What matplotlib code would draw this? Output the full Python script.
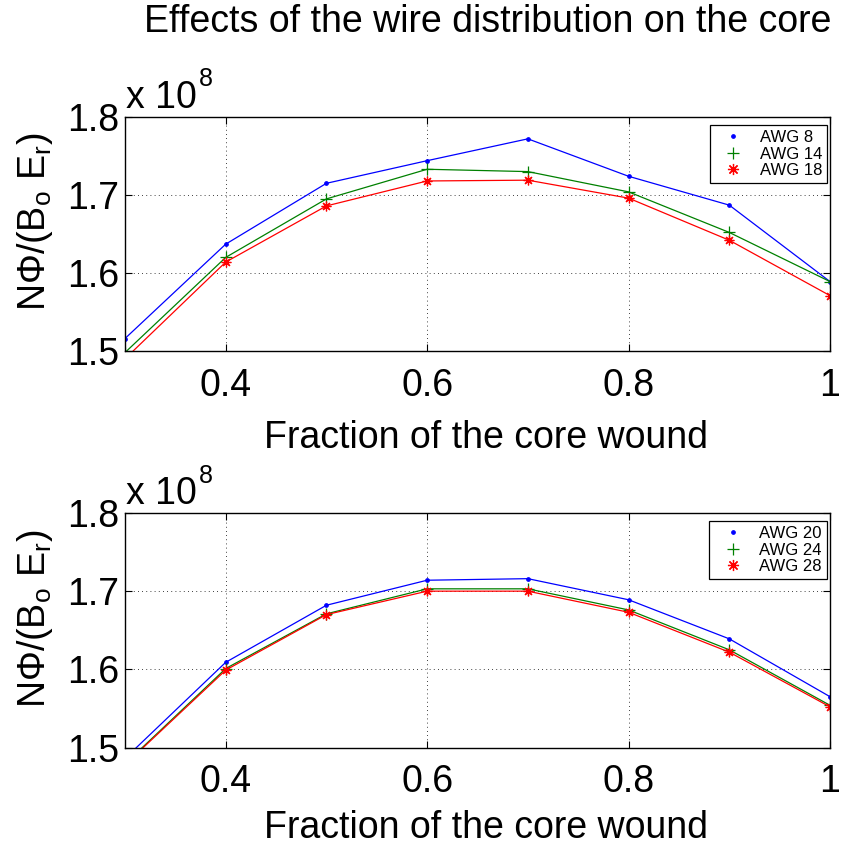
import matplotlib
matplotlib.use("Agg")
import matplotlib.pyplot as plt
from matplotlib.lines import Line2D
import numpy as np

plt.rcParams['font.family'] = ['Liberation Sans', 'DejaVu Sans']
plt.rcParams['mathtext.fontset'] = 'custom'
plt.rcParams['mathtext.rm'] = 'Liberation Sans'
plt.rcParams['mathtext.it'] = 'Liberation Sans'
plt.rcParams['mathtext.bf'] = 'Liberation Sans'

# Fraction of the core that is wound
fraction = [0.3, 0.4, 0.5, 0.6, 0.7, 0.8, 0.9, 1.0]

# Normalised flux (units of 1e8), thick wires
awg8 = [1.516, 1.637, 1.715, 1.744, 1.772, 1.724, 1.687, 1.589]
awg14 = [1.498, 1.620, 1.695, 1.733, 1.730, 1.704, 1.652, 1.589]
awg18 = [1.490, 1.614, 1.686, 1.718, 1.719, 1.696, 1.642, 1.571]

# Normalised flux (units of 1e8), thin wires
awg20 = [1.486, 1.609, 1.682, 1.714, 1.716, 1.689, 1.639, 1.565]
awg24 = [1.479, 1.601, 1.671, 1.703, 1.703, 1.676, 1.625, 1.554]
awg28 = [1.478, 1.599, 1.670, 1.700, 1.700, 1.673, 1.622, 1.552]

top_labels = ['AWG 8', 'AWG 14', 'AWG 18']
bottom_labels = ['AWG 20', 'AWG 24', 'AWG 28']

xticks = [0.4, 0.6, 0.8, 1.0]
xticklabels = ['0.4', '0.6', '0.8', '1']
yticks = [1.5, 1.6, 1.7, 1.8]
yticklabels = ['1.5', '1.6', '1.7', '1.8']

colors = ['#0000ff', '#008000', '#ff0000']
asterisk = (8, 2, 0)
markers = ['.', '+', asterisk]
msizes = [5, 8, 7]
leg_msizes = [5, 9, 8]

BIG = 27

W, H = 841, 849
fig = plt.figure(figsize=(W / 100, H / 100), dpi=100)

def px(x, y):
    """Pixel position (from the top-left corner) to figure fraction."""
    return x / W, 1 - y / H

def frac_box(left, top, right, bottom):
    return [left / W, 1 - bottom / H, (right - left) / W, (bottom - top) / H]

ax_top = fig.add_axes(frac_box(125, 117, 830, 351))
ax_bot = fig.add_axes(frac_box(125, 513, 830, 747.5))

ylabel = r'N$\Phi$/(B$_{\mathrm{o}}$ E$_{\mathrm{r}}$)'

for ax, series, labels, dy, xlab_y in [
    (ax_top, [awg8, awg14, awg18], top_labels, 0, 448),
    (ax_bot, [awg20, awg24, awg28], bottom_labels, 396.5, 838),
]:
    handles = []
    for vals, c, m, ms, lms, lab in zip(series, colors, markers, msizes,
                                        leg_msizes, labels):
        ax.plot(fraction, vals, color=c, lw=0.9, marker=m, ms=ms,
                markeredgewidth=0.9, clip_on=True)
        handles.append(Line2D([], [], color=c, ls='none', marker=m, ms=lms,
                              markeredgewidth=0.9, label=lab))
    ax.set_xlim(0.3, 1.0)
    ax.set_ylim(1.5, 1.8)
    ax.set_xticks(xticks)
    ax.set_xticklabels(xticklabels)
    ax.set_yticks(yticks)
    ax.set_yticklabels(yticklabels)
    ax.tick_params(direction='in', length=5, width=0.8, labelsize=BIG,
                   top=True, right=True)
    ax.tick_params(axis='x', pad=12)
    ax.tick_params(axis='y', pad=4)
    ax.grid(True, color='black', ls=(0, (1, 4)), lw=0.6)
    for s in ax.spines.values():
        s.set_linewidth(1.0)
    leg = ax.legend(handles=handles, loc='upper right',
                    bbox_to_anchor=(0.9957, 0.966), borderaxespad=0,
                    fontsize=12, fancybox=False, framealpha=1,
                    edgecolor='black', handlelength=2.2, handletextpad=0.5,
                    labelspacing=0.1, borderpad=0.3)
    leg.get_frame().set_linewidth(0.9)

    # exponent of the y axis
    fig.text(*px(126, 108 + dy), 'x 10', fontsize=BIG, ha='left',
             va='baseline')
    fig.text(*px(199, 86 + dy), '8', fontsize=18, ha='left', va='baseline')

    fig.text(*px(35, 222 + dy), ylabel, rotation=90, fontsize=BIG,
             ha='center', va='center')
    fig.text(*px(486, xlab_y), 'Fraction of the core wound',
             fontsize=BIG, ha='center', va='baseline')

fig.text(*px(488, 22), 'Effects of the wire distribution on the core',
         fontsize=BIG, ha='center', va='center')

fig.savefig('out.png', dpi=100, facecolor='white')
